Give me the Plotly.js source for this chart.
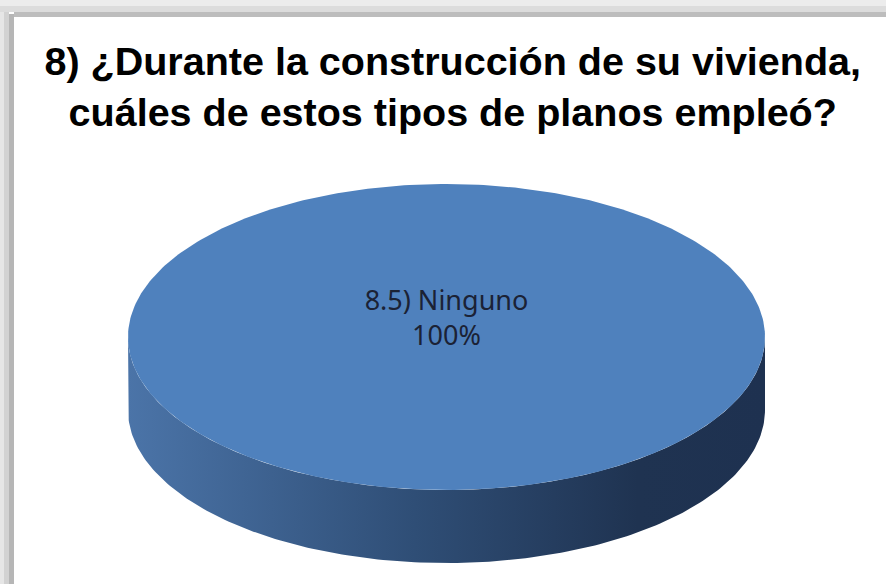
<!DOCTYPE html>
<html>
<head>
<meta charset="utf-8">
<script src="https://cdn.plot.ly/plotly-3.0.1.min.js"></script>
<style>html,body{margin:0;padding:0;background:#fff;}#chart{width:886px;height:584px;}</style>
</head>
<body>
<div id="chart"></div>
<script>
// ---- data ----
const titleText = "8) ¿Durante la construcción de su vivienda,<br>cuáles de estos tipos de planos empleó?";
const labels = ["8.5) Ninguno"];
const values = [100];
const topColors = ["#4f81bd"];
const sideColors = [[[0, "#4b74a8"], [0.45, "#2f4e76"], [0.8, "#1f3351"], [1, "#1e3150"]]];

// ---- 3D pie geometry (layout) ----
const W = 886, H = 584;
const cx = 446.5, cy = 337, rx = 318.5, ry = 153, depth = 73;
const total = values.reduce((a, b) => a + b, 0);

function pt(theta, dy) {
  // theta in radians, 0 = 12 o'clock, clockwise
  return [cx + rx * Math.sin(theta), cy - ry * Math.cos(theta) + (dy || 0)];
}
function arc(a0, a1, dy, n) {
  const xs = [], ys = [];
  for (let i = 0; i <= n; i++) {
    const t = a0 + (a1 - a0) * i / n;
    const p = pt(t, dy);
    xs.push(p[0]); ys.push(p[1]);
  }
  return [xs, ys];
}

const traces = [];
const topTraces = [];
let start = 0;
const labelX = [], labelY = [], labelT = [];
values.forEach((v, i) => {
  const frac = v / total;
  const a0 = start, a1 = start + frac * 2 * Math.PI;
  start = a1;
  // visible front side: angles between PI/2 and 3PI/2
  const s0 = Math.max(a0, Math.PI / 2), s1 = Math.min(a1, 3 * Math.PI / 2);
  if (s1 > s0) {
    const n = Math.max(8, Math.round((s1 - s0) * 60));
    const upper = arc(s0, s1, 0, n);
    const lower = arc(s1, s0, depth, n);
    traces.push({
      type: "scatter", mode: "lines",
      x: upper[0].concat(lower[0]).concat([upper[0][0]]),
      y: upper[1].concat(lower[1]).concat([upper[1][0]]),
      fill: "toself",
      fillgradient: {type: "horizontal", colorscale: sideColors[i]},
      line: {width: 0}, hoverinfo: "skip", showlegend: false
    });
  }
  const n2 = Math.max(8, Math.round((a1 - a0) * 60));
  const top = arc(a0, a1, 0, n2);
  const full = frac >= 0.9999;
  topTraces.push({
    type: "scatter", mode: "lines",
    x: full ? top[0] : [cx].concat(top[0]).concat([cx]),
    y: full ? top[1] : [cy].concat(top[1]).concat([cy]),
    fill: "toself", fillcolor: topColors[i],
    line: {width: 0}, hoverinfo: "skip", showlegend: false
  });
  // label
  if (full) {
    labelX.push(cx); labelY.push(cy - 16);
  } else {
    const p = [cx + 0.6 * rx * Math.sin((a0 + a1) / 2), cy - 0.6 * ry * Math.cos((a0 + a1) / 2)];
    labelX.push(p[0]); labelY.push(p[1]);
  }
  labelT.push(labels[i] + "<br>" + Math.round(frac * 100) + "%");
});

const labelTrace = {
  type: "scatter", mode: "text",
  x: labelX, y: labelY, text: labelT,
  textposition: "middle center",
  textfont: {family: "Noto Sans, Open Sans, sans-serif", size: 27, color: "#1b2235"},
  hoverinfo: "skip", showlegend: false
};

const shapes = [
  // top shadow band
  {type: "rect", xref: "paper", yref: "paper", x0: 0, x1: 1, y0: 1, y1: 1 - 6 / H, fillcolor: "#ececec", line: {width: 0}, layer: "below"},
  {type: "rect", xref: "paper", yref: "paper", x0: 0, x1: 1, y0: 1 - 6 / H, y1: 1 - 12 / H, fillcolor: "#dcdcdc", line: {width: 0}, layer: "below"},
  {type: "rect", xref: "paper", yref: "paper", x0: 14 / W, x1: 1, y0: 1 - 12 / H, y1: 1 - 17 / H, fillcolor: "#bdbdbd", line: {width: 0}, layer: "below"},
  // left shadow band
  {type: "rect", xref: "paper", yref: "paper", x0: 0, x1: 4 / W, y0: 0, y1: 1 - 12 / H, fillcolor: "#e6e6e6", line: {width: 0}, layer: "below"},
  {type: "rect", xref: "paper", yref: "paper", x0: 4 / W, x1: 9 / W, y0: 0, y1: 1 - 12 / H, fillcolor: "#d2d2d2", line: {width: 0}, layer: "below"},
  {type: "rect", xref: "paper", yref: "paper", x0: 9 / W, x1: 14 / W, y0: 0, y1: 1 - 14 / H, fillcolor: "#b6b6b6", line: {width: 0}, layer: "below"}
];

const layout = {
  width: W, height: H,
  margin: {l: 0, r: 0, t: 0, b: 0},
  paper_bgcolor: "#ffffff", plot_bgcolor: "rgba(0,0,0,0)",
  title: {
    text: titleText,
    font: {family: "Liberation Sans, Arial, sans-serif", size: 39.5, color: "#000000", weight: "bold"},
    x: 0.511, xanchor: "center", xref: "paper",
    y: 0.872, yanchor: "top", yref: "container"
  },
  xaxis: {range: [0, W], visible: false, fixedrange: true},
  yaxis: {range: [H, 0], visible: false, fixedrange: true},
  shapes: shapes,
  showlegend: false
};

Plotly.newPlot("chart", traces.concat(topTraces).concat([labelTrace]), layout, {staticPlot: true});
</script>
</body>
</html>
